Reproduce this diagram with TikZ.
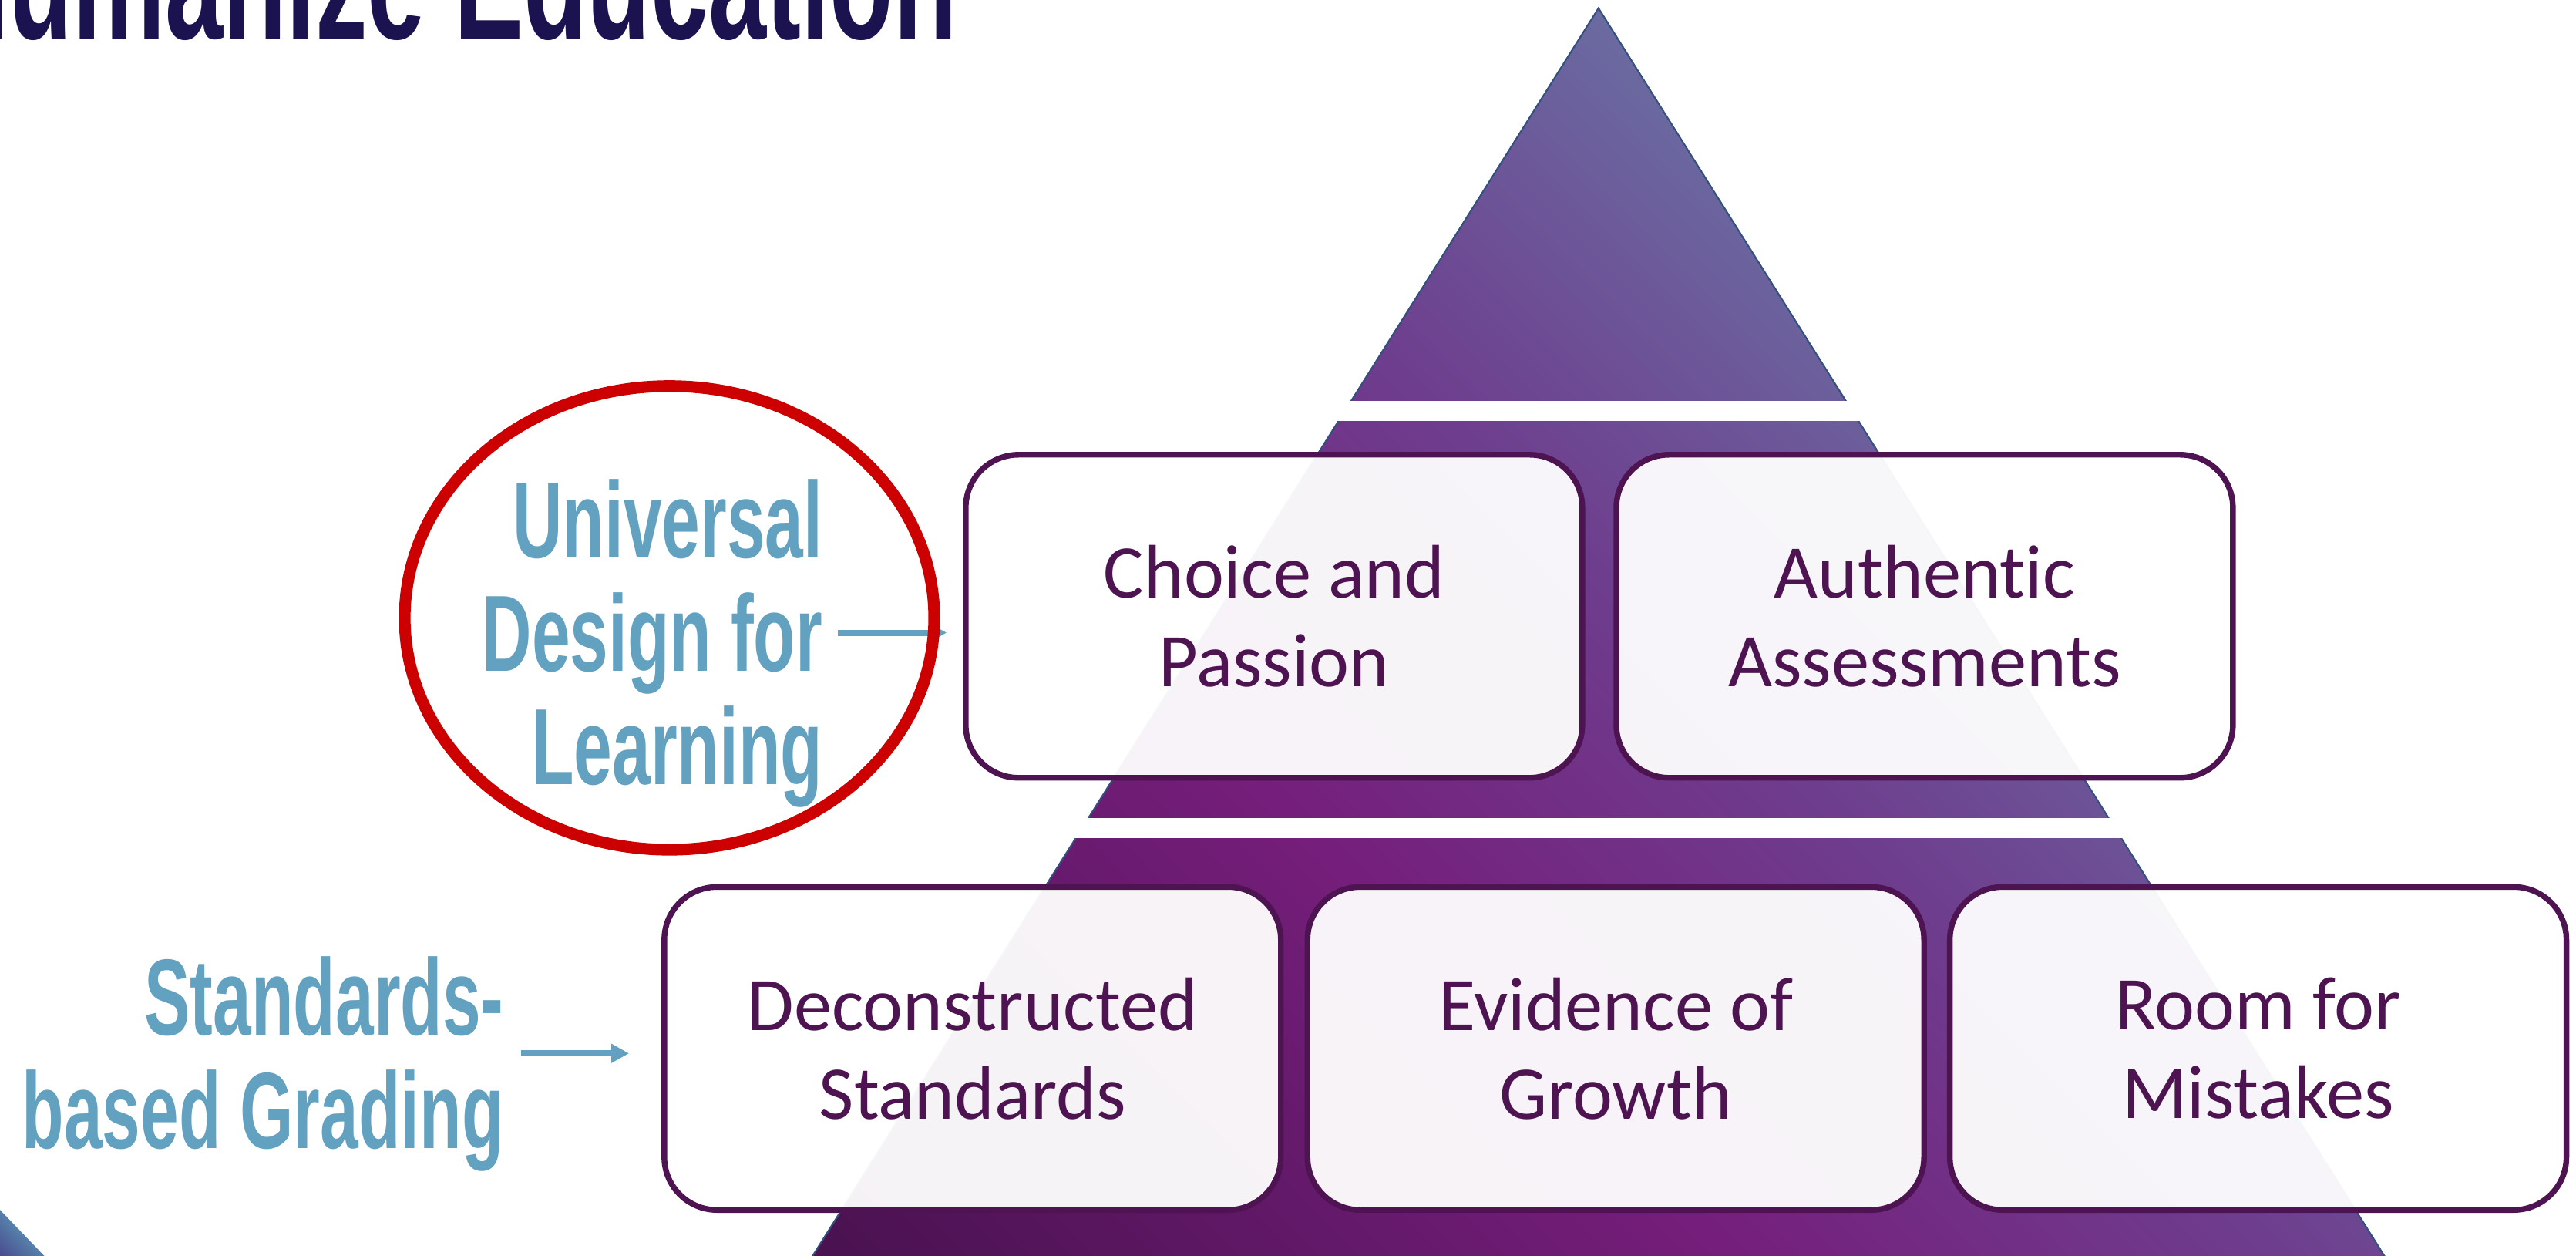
\documentclass[tikz,border=0pt]{standalone}
\usepackage{fontspec}
\usepackage{xcolor}
\usepackage{tikz}
\usetikzlibrary{arrows.meta}

\newfontfamily\headfont[FakeStretch=0.635]{Liberation Sans Bold}
\newfontfamily\boxfont[FakeStretch=1.0, Ligatures=NoCommon]{Carlito}

\definecolor{titlenavy}{HTML}{1B1250}
\definecolor{udlblue}{HTML}{62A1BF}
\definecolor{ringred}{HTML}{CC0000}
\definecolor{boxline}{HTML}{4E1452}
\definecolor{pyrdark}{HTML}{4A1250}
\definecolor{pyrmid}{HTML}{751E7B}
\definecolor{pyrviolet}{HTML}{6E3E8E}
\definecolor{pyrslate}{HTML}{6A72A4}
\definecolor{pyredge}{HTML}{34507E}
\definecolor{cornerteal}{HTML}{62B8C8}
\definecolor{cornerpurple}{HTML}{4A4A8E}

\pgfdeclarehorizontalshading{pyramidfade}{100bp}{color(0bp)=(pyrdark); color(16bp)=(pyrdark); color(38bp)=(pyrmid); color(52bp)=(pyrviolet); color(68bp)=(pyrslate); color(100bp)=(pyrslate)}

\begin{document}
\begin{tikzpicture}[x=0.02131cm, y=-0.02131cm,
    pillar/.style={draw=boxline, line width=2.1pt, fill=white, fill opacity=0.95, text opacity=1,
        rounded corners=19.5pt, minimum width=8cm, minimum height=4.19cm, inner sep=0pt,
        align=center, text=boxline, font=\boxfont\fontsize{28}{32.7}\selectfont},
    tag/.style={text=udlblue, font=\headfont\fontsize{40}{41.8}\selectfont, align=right,
        inner sep=0pt, anchor=east},
    pointer/.style={draw=udlblue, line width=2.3pt, -{Triangle[length=6.5pt,width=6.7pt]}}]

    % Page area
    \useasboundingbox (0,0) rectangle (1568,764);
    \fill[white] (0,0) rectangle (1568,764);

    % Define the pyramid
    \shadedraw[shading=pyramidfade, shading angle=45, draw=pyredge, line width=0.6pt]
        (973,5) -- (1461.3,780) -- (484.7,780) -- cycle;

    % Cut it into three tiers
    \fill[white] (600,244) rectangle (1350,256);
    \fill[white] (600,498) rectangle (1350,510);

    % Upper row of boxes
    \node[pillar] (choice) at (775.5,375) {Choice and\\Passion};
    \node[pillar] (authentic) at (1171.5,375) {Authentic\\Assessments};

    % Lower row of boxes
    \node[pillar] (decon) at (592,638) {Deconstructed\\Standards};
    \node[pillar] (evidence) at (983.5,638) {Evidence of\\Growth};
    \node[pillar] (mistakes) at (1374.5,638) {Room for\\Mistakes};

    % Arrows from the labels
    \coordinate (udl-tail) at (510,385);
    \coordinate (sbg-tail) at (317,641);
    \draw[pointer, shorten >=6pt] (udl-tail) -- (udl-tail -| choice.west);
    \draw[pointer, shorten >=12pt] (sbg-tail) -- (sbg-tail -| decon.west);

    % Red ring round UDL
    \draw[ringred, line width=4.3pt] (407.5,376) ellipse [x radius=3.435cm, y radius=3.007cm];

    % Labels on the left
    \node[tag] (udl) at (501,391.5) {Universal\\Design for\\Learning};
    \node[tag] (sbg) at (307,647.6) {Standards-\\based Grading};

    % Title, cut off by the page edge
    \node[anchor=base east, inner sep=0pt, text=titlenavy, font=\headfont\fontsize{60.5}{60}\selectfont]
        (title) at (583,23.8) {Humanize Education};

    % Corner decoration
    \shade[left color=cornerpurple, right color=cornerteal, shading angle=135]
        (-5,731) -- (34,771.6) -- (-5,771.6) -- cycle;

\end{tikzpicture}
\end{document}
